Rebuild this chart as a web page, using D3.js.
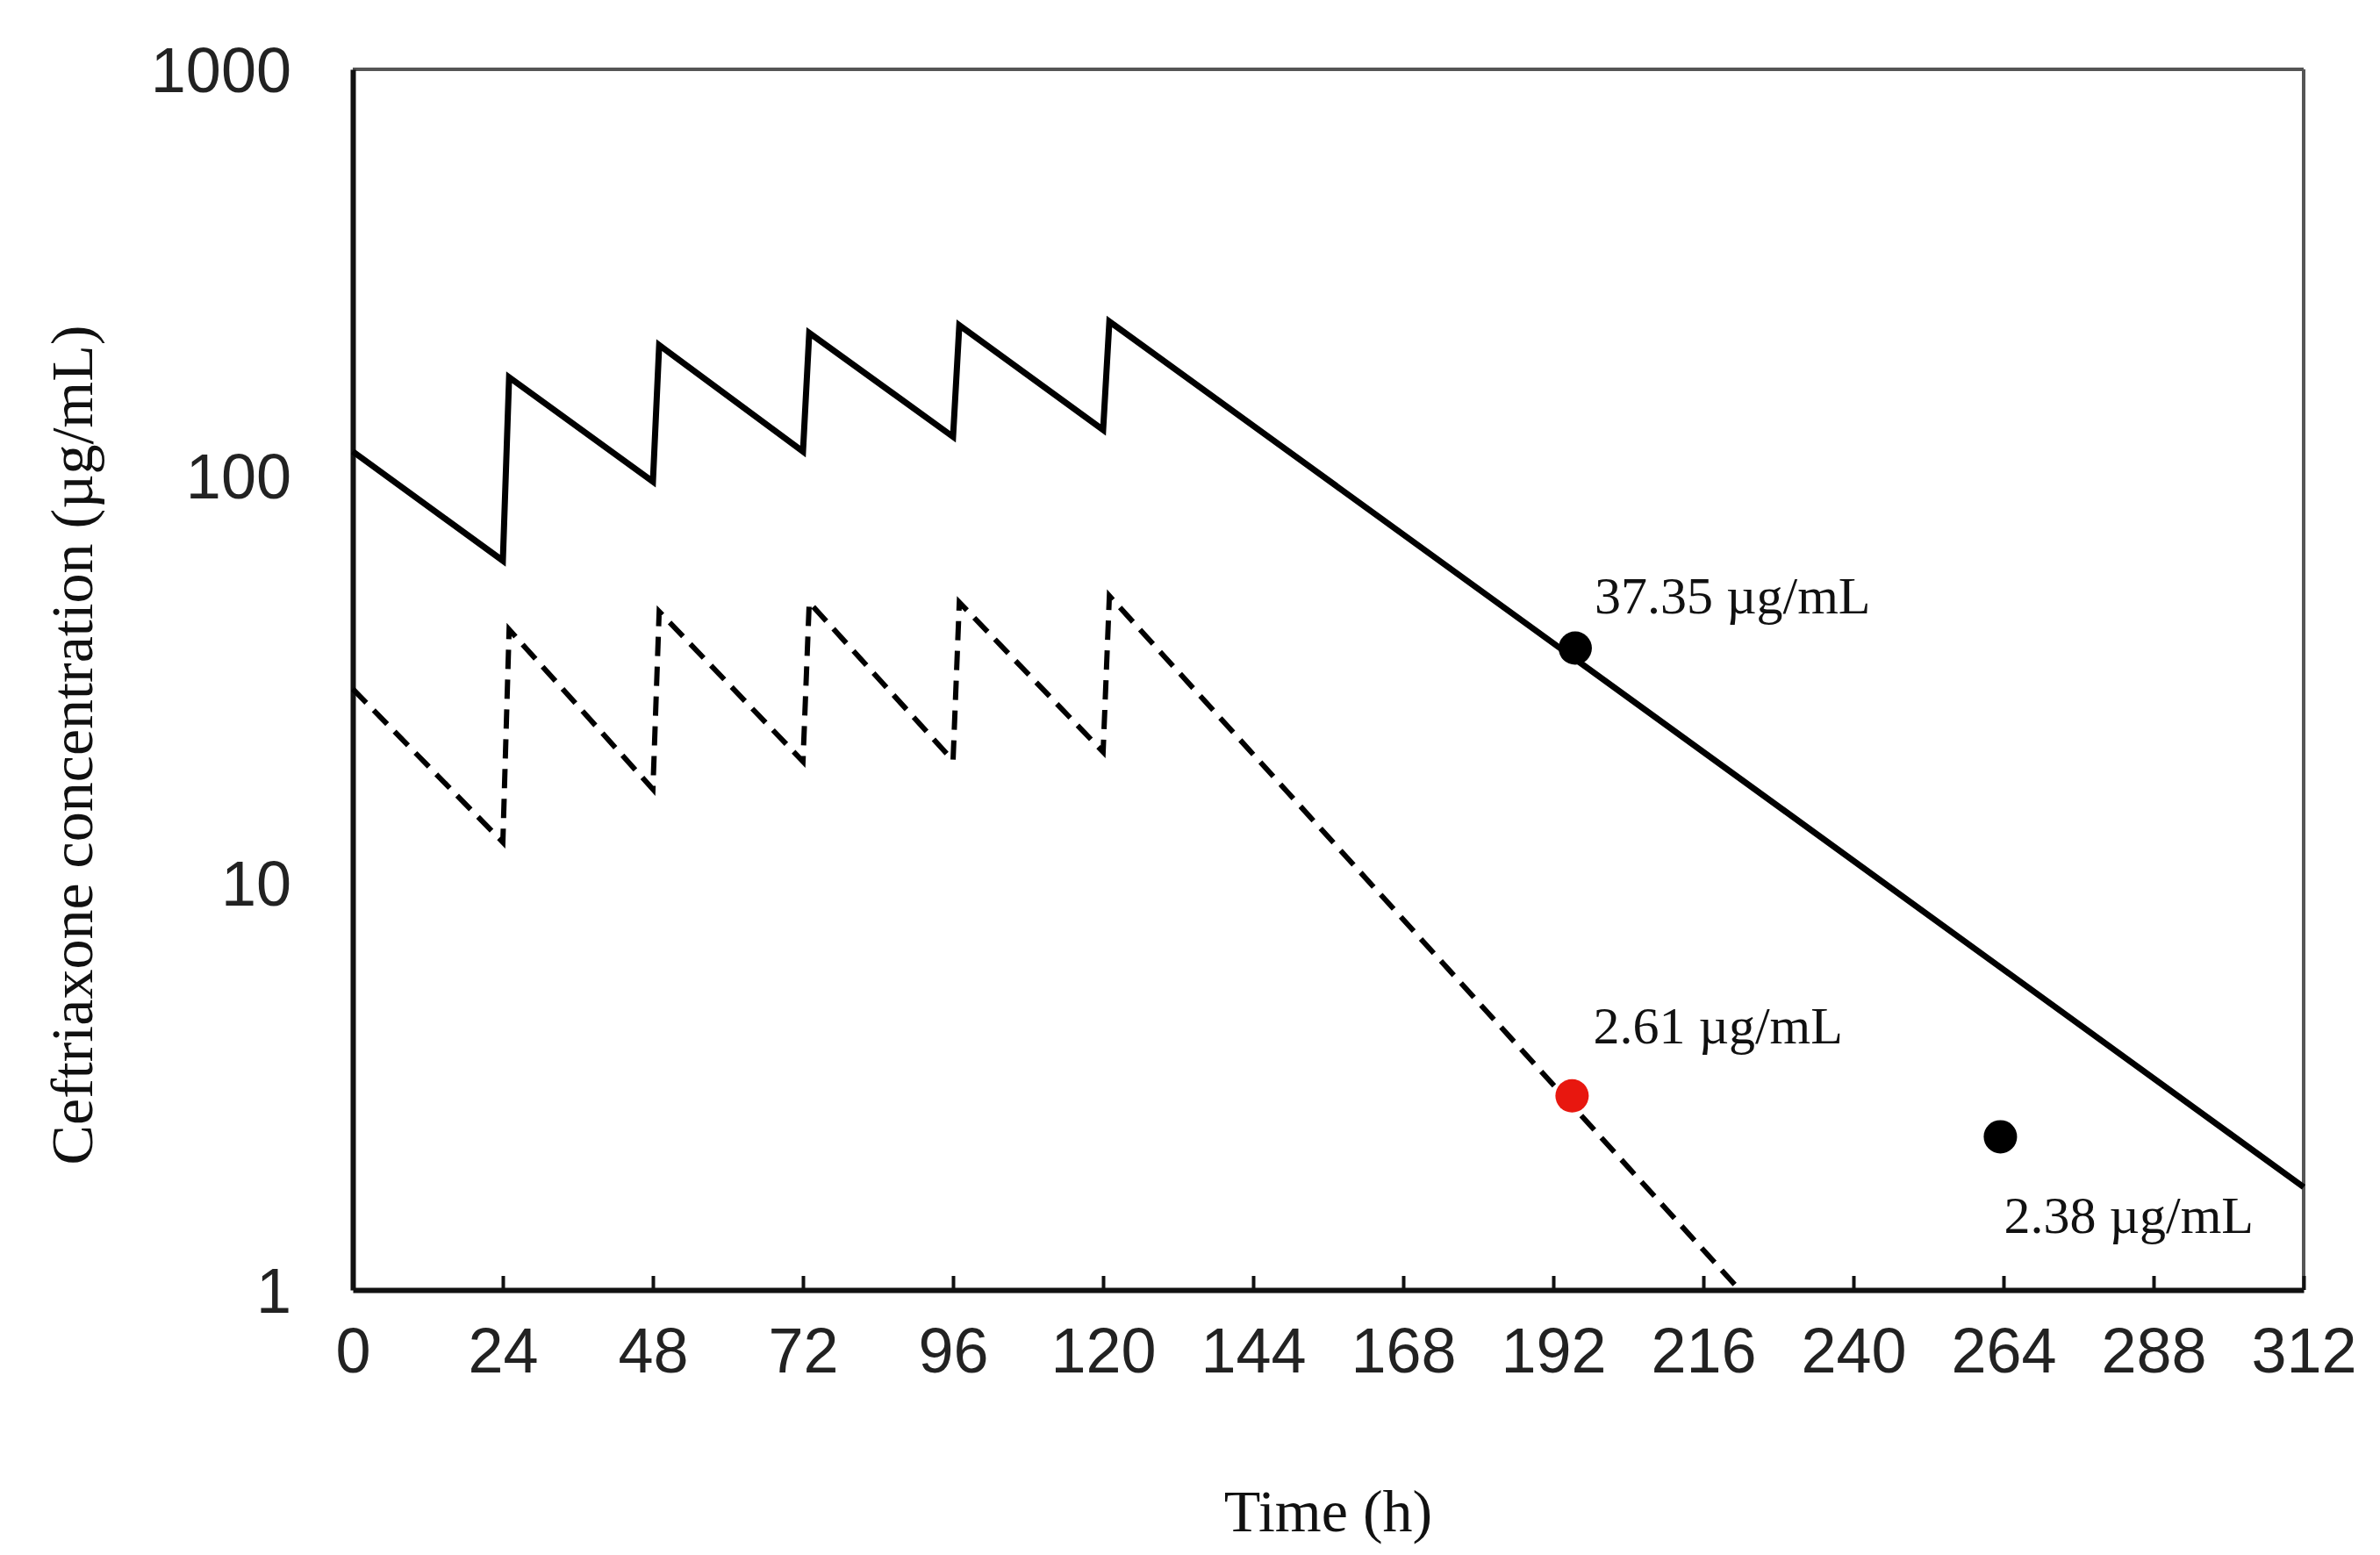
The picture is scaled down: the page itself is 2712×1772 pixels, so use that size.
<!DOCTYPE html>
<html><head><meta charset="utf-8">
<script src="https://cdn.jsdelivr.net/npm/d3@7"></script>
<style>body{margin:0;background:#fff}</style>
</head><body><svg id="c" width="2712" height="1772"></svg>
<script>
const xTicks=[0,24,48,72,96,120,144,168,192,216,240,264,288,312];
const yTicks=[1,10,100,1000];
const solidT=[0,24,25,48,49,72,73,96,97,120,121,312];
const solidC=[115,62,175,97,210,115,225,125,235,130,240,1.79];
const dashT=[0,24,25,48,49,72,73,96,97,120,121,221.8];
const dashC=[30,12.6,42,17,46.5,19.9,49,20,49,21,50.8,1];
const ptsT=[195.5,263.5,195];
const ptsC=[37.8,2.38,3.0];
const ptsColor=["#000","#000","#e8170f"];
const labels=["37.35 µg/mL","2.38 µg/mL","2.61 µg/mL"];

const L=402,R=2625,T=79,B=1470;
const svg=d3.select("#c");
const x=d3.scaleLinear().domain([0,312]).range([L,R]);
const y=d3.scaleLog().domain([1,1000]).range([B,T]);
const sans="'Liberation Sans',Arial,sans-serif", serif="'Liberation Serif','Times New Roman',serif";

// frame
svg.append("line").attr("x1",L).attr("x2",R).attr("y1",T).attr("y2",T).attr("stroke","#555").attr("stroke-width",4);
svg.append("line").attr("x1",R).attr("x2",R).attr("y1",T).attr("y2",B).attr("stroke","#555").attr("stroke-width",4);
const xa=svg.append("g").attr("transform",`translate(0,${B})`).call(d3.axisBottom(x).tickValues(xTicks).tickSizeInner(-16).tickSizeOuter(0).tickPadding(40));
const ya=svg.append("g").attr("transform",`translate(${L},0)`).call(d3.axisLeft(y).tickValues(yTicks).tickFormat(d3.format("d")).tickSize(0).tickPadding(70));
[xa,ya].forEach(a=>{a.select(".domain").attr("stroke","#111").attr("stroke-width",6);
 a.selectAll(".tick line").attr("stroke","#111").attr("stroke-width",4);
 a.selectAll("text").attr("font-family",sans).attr("font-size",72).attr("fill","#222");});
xa.selectAll("text").attr("dy","0.75em");
ya.selectAll("text").attr("dy","0.35em");

const line=d3.line().x(d=>x(d[0])).y(d=>y(d[1]));
svg.append("path").attr("d",line(solidT.map((t,i)=>[t,solidC[i]]))).attr("fill","none").attr("stroke","#000").attr("stroke-width",7).attr("stroke-linejoin","miter");
svg.append("path").attr("d",line(dashT.map((t,i)=>[t,dashC[i]]))).attr("fill","none").attr("stroke","#000").attr("stroke-width",6).attr("stroke-dasharray","22,12");

ptsT.forEach((t,i)=>svg.append("circle").attr("cx",x(t)).attr("cy",y(ptsC[i])).attr("r",19).attr("fill",ptsColor[i]));
const lp=[[x(ptsT[0])+22,y(ptsC[0])-40],[x(ptsT[1])+4,y(ptsC[1])+110],[x(ptsT[2])+24,y(ptsC[2])-60]];
labels.forEach((s,i)=>svg.append("text").attr("x",lp[i][0]).attr("y",lp[i][1]).text(s).attr("font-family",serif).attr("font-size",60).attr("fill","#111"));

svg.append("text").attr("x",(L+R)/2).attr("y",1745).attr("text-anchor","middle").attr("font-family",serif).attr("font-size",68).attr("fill","#111").text("Time (h)");
svg.append("text").attr("transform","translate(105,849) rotate(-90)").attr("text-anchor","middle").attr("font-family",serif).attr("font-size",68).attr("fill","#111").text("Ceftriaxone concentration (µg/mL)");
</script></body></html>
